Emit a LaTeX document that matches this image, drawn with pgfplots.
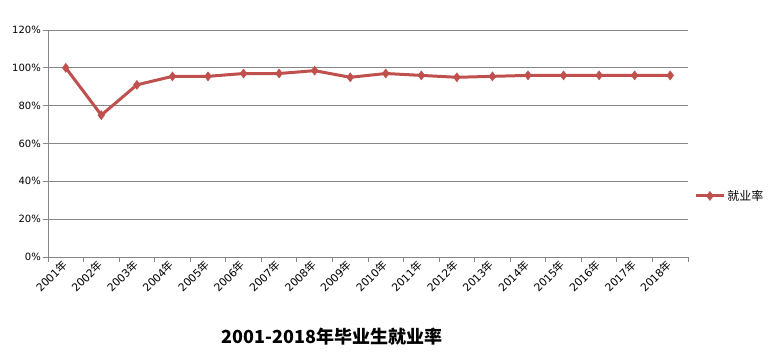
\documentclass[border=0pt]{standalone}
\usepackage{fontspec}
\setmainfont{DejaVu Sans}
\newfontfamily\cjk{Noto Sans CJK SC}
\usepackage{pgfplots}
\pgfplotsset{compat=1.18}
\definecolor{ser}{HTML}{C0504D}
\definecolor{grd}{HTML}{868686}
\newcommand{\yr}[1]{\mbox{#1{\cjk 年}}}
\begin{document}
\begin{tikzpicture}[x=1pt,y=1pt]
\path[use as bounding box] (0,0) rectangle (771,360);
\begin{axis}[at={(48pt,103pt)}, anchor=south west, scale only axis,
  width=640pt, height=227pt,
  xmin=-0.5, xmax=17.5, ymin=0, ymax=120,
  axis x line*=bottom, axis y line*=left,
  axis line style={-, draw=grd, line width=1pt},
  ytick={0,20,...,120},
  yticklabel={\mbox{\pgfmathprintnumber{\tick}\%}},
  /pgf/number format/assume math mode=true,
  ymajorgrids, grid style={draw=grd, line width=1pt},
  tick align=outside, major tick length=5pt, minor tick length=5pt,
  ytick style={draw=grd, line width=1pt},
  xtick={0,...,17},
  xticklabels={\yr{2001},\yr{2002},\yr{2003},\yr{2004},\yr{2005},\yr{2006},\yr{2007},\yr{2008},\yr{2009},\yr{2010},\yr{2011},\yr{2012},\yr{2013},\yr{2014},\yr{2015},\yr{2016},\yr{2017},\yr{2018}},
  major x tick style={draw=none},
  minor xtick={-0.5,0.5,...,17.5},
  minor x tick style={draw=grd, line width=1pt},
  xticklabel style={rotate=45, anchor=east, font=\fontsize{10.8}{11}\selectfont, inner sep=1pt},
  yticklabel style={font=\fontsize{10}{11}\selectfont, inner sep=2pt},
  legend style={at={(1.005,0.269)}, anchor=west, draw=none, fill=none, font=\cjk\fontsize{12}{13}\selectfont},
  legend image code/.code={\draw[mark repeat=2,mark phase=2,#1] plot coordinates {(0pt,0pt)(14pt,0pt)(28pt,0pt)};},
]
\addplot[ser, line width=3pt, mark=diamond*, mark size=4.5pt, mark options={solid, line width=0.5pt}] coordinates {
(0,100)(1,75)(2,91)(3,95.5)(4,95.5)(5,97)(6,97)(7,98.5)(8,95)(9,97)(10,96)(11,95)(12,95.5)(13,96)(14,96)(15,96)(16,96)(17,96)};
\addlegendentry{就业率}
\end{axis}
\node at (332,23) {\cjk\bfseries\fontsize{18}{19}\selectfont 2001-2018年毕业生就业率};
\end{tikzpicture}
\end{document}
